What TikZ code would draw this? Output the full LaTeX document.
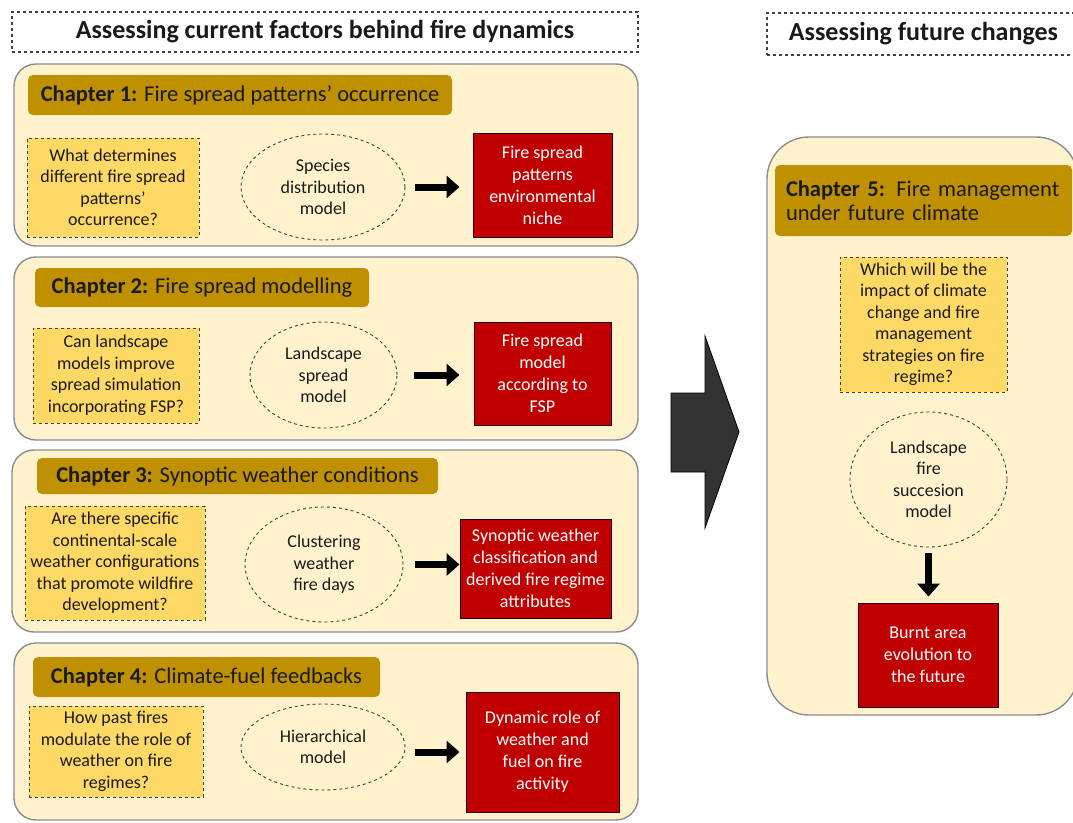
\documentclass[tikz,border=0pt]{standalone}
\usepackage{fontspec}
\setmainfont{Carlito}
\usetikzlibrary{arrows.meta,shapes.geometric}
\definecolor{panelfill}{HTML}{FFF2CC}
\definecolor{paneldraw}{HTML}{8C8C8C}
\definecolor{titlefill}{HTML}{BF9000}
\definecolor{qfill}{HTML}{FFD966}
\definecolor{qdraw}{HTML}{404040}
\definecolor{redfill}{HTML}{C00000}
\definecolor{reddraw}{HTML}{2A0000}
\definecolor{txt}{HTML}{1A1A1A}
\definecolor{bigarr}{HTML}{333333}
\begin{document}
\begin{tikzpicture}[x=1pt,y=-1pt,
  hdr/.style={draw=qdraw, dashed, line width=1.1pt, inner sep=0pt, text=txt,
    font=\fontsize{26}{30}\selectfont\bfseries},
  panel/.style={draw=paneldraw, fill=panelfill, line width=1.4pt, rounded corners=22pt, inner sep=0pt},
  titlebar/.style={fill=titlefill, rounded corners=5pt, inner sep=0pt, text=txt,
    font=\fontsize{22.5}{24}\selectfont},
  question/.style={draw=qdraw, dashed, fill=qfill, line width=0.9pt, inner sep=0pt, align=center,
    text=txt, font=\fontsize{18}{21.5}\selectfont},
  method/.style={ellipse, draw=qdraw, dashed, line width=0.9pt, inner sep=0pt, align=center,
    text=txt, font=\fontsize{18}{21.5}\selectfont},
  result/.style={draw=reddraw, fill=redfill, line width=1pt, inner sep=0pt, align=center,
    text=white, font=\fontsize{18}{22}\selectfont},
  flow/.style={line width=7pt, -{Triangle[length=13pt,width=22pt]}}
]
\useasboundingbox (0,0) rectangle (1073,822);
\fill[white] (0,0) rectangle (1073,822);

% headers
\node[hdr, minimum width=626pt, minimum height=40pt] (h1) at (325,32) {Assessing current factors behind fire dynamics};
\node[hdr, minimum width=313pt, minimum height=42pt] (h2) at (923.5,34) {Assessing future changes};

% Chapter 1
\node[panel, minimum width=624pt, minimum height=182pt] (p1) at (326,155) {};
\node[titlebar, minimum width=424pt, minimum height=40pt] (t1) at (240,95) {\textbf{Chapter 1:} Fire spread patterns’ occurrence};
\node[question, minimum width=172pt, minimum height=99pt] (q1) at (113,187.5) {What determines\\different fire spread\\patterns’\\occurrence?};
\node[method, minimum width=164pt, minimum height=106pt] (e1) at (323,187) {Species\\distribution\\model};
\node[result, minimum width=139pt, minimum height=104pt] (r1) at (542.5,185) {Fire spread\\patterns\\environmental\\niche};
\draw[flow, shorten <=10pt, shorten >=13pt] (e1.east) -- (e1.east -| r1.west);

% Chapter 2
\node[panel, minimum width=624pt, minimum height=183pt] (p2) at (326,348.5) {};
\node[titlebar, minimum width=334pt, minimum height=39pt] (t2) at (202,287.5) {\textbf{Chapter 2:} Fire spread modelling};
\node[question, minimum width=166pt, minimum height=95pt] (q2) at (116,375.5) {Can landscape\\models improve\\spread simulation\\incorporating FSP?};
\node[method, minimum width=147pt, minimum height=106pt] (e2) at (323.5,375) {Landscape\\spread\\model};
\node[result, minimum width=137pt, minimum height=103pt] (r2) at (542.5,373.5) {Fire spread\\model\\according to\\FSP};
\draw[flow, shorten <=17pt, shorten >=14pt] (e2.east) -- (e2.east -| r2.west);

% Chapter 3
\node[panel, minimum width=626pt, minimum height=182pt] (p3) at (325,541) {};
\node[titlebar, minimum width=401pt, minimum height=36pt] (t3) at (237.5,476) {\textbf{Chapter 3:} Synoptic weather conditions};
\node[question, minimum width=180pt, minimum height=114pt] (q3) at (115,563) {Are there specific\\continental-scale\\weather configurations\\that promote wildfire\\development?};
\node[method, minimum width=158pt, minimum height=115pt] (e3) at (324,564.5) {Clustering\\weather\\fire days};
\node[result, minimum width=151pt, minimum height=99pt] (r3) at (535.5,568.5) {Synoptic weather\\classification and\\derived fire regime\\attributes};
\draw[flow, shorten <=12pt, shorten >=0pt] (e3.east) -- (e3.east -| r3.west);

% Chapter 4
\node[panel, minimum width=624pt, minimum height=177pt] (p4) at (326,731.5) {};
\node[titlebar, minimum width=347pt, minimum height=40pt] (t4) at (206.5,677) {\textbf{Chapter 4:} Climate-fuel feedbacks};
\node[question, minimum width=174pt, minimum height=91pt] (q4) at (116,751.5) {How past fires\\modulate the role of\\weather on fire\\regimes?};
\node[method, minimum width=164pt, minimum height=86pt] (e4) at (323,747) {Hierarchical\\model};
\node[result, minimum width=153pt, minimum height=120pt] (r4) at (542.5,752) {Dynamic role of\\weather and\\fuel on fire\\activity};
\draw[flow, shorten <=10pt, shorten >=6pt] ([yshift=-5pt]e4.east) -- ([yshift=-5pt]e4.east -| r4.west);

% big arrow
\filldraw[fill=bigarr, draw=black, line width=0.8pt]
  (671,393) -- (705,393) -- (705,336) -- (739,432) -- (705,528) -- (705,472) -- (671,472) -- cycle;

% Chapter 5
\node[panel, rounded corners=42pt, minimum width=311pt, minimum height=578pt] (p5) at (922.5,426) {};
\node[titlebar, minimum width=297pt, minimum height=71pt, align=left, text width=275pt] (t5) at (923.5,200.5) {\textbf{Chapter 5:} Fire management\\under future climate};
\node[question, minimum width=167pt, minimum height=135pt] (q5) at (923.5,324.5) {Which will be the\\impact of climate\\change and fire\\management\\strategies on fire\\regime?};
\node[method, minimum width=157pt, minimum height=135pt] (e5) at (928.5,479.5) {Landscape\\fire\\succesion\\model};
\node[result, minimum width=140pt, minimum height=104pt] (r5) at (928,655) {Burnt area\\evolution to\\the future};
\draw[flow, shorten <=6pt, shorten >=6pt] (e5.south) -- (e5.south |- r5.north);
\end{tikzpicture}
\end{document}
